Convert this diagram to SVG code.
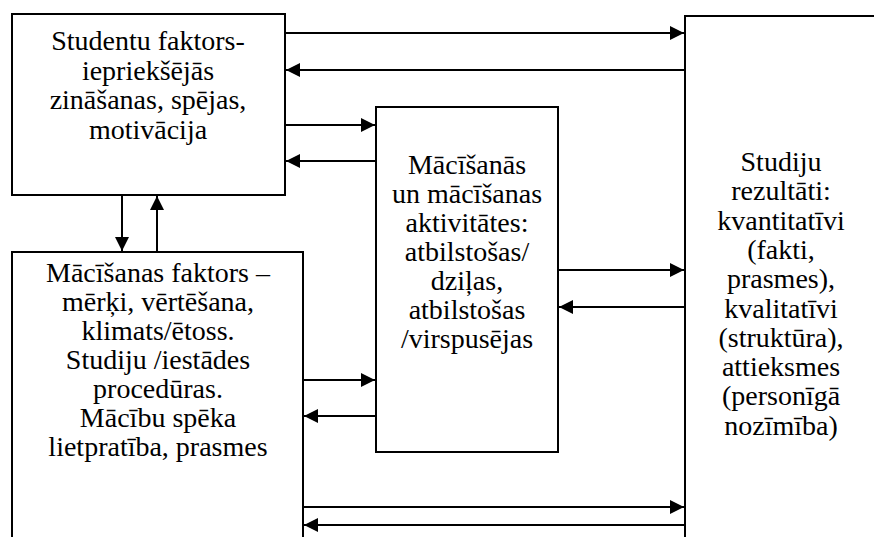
<svg xmlns="http://www.w3.org/2000/svg" width="874" height="537" viewBox="0 0 874 537">
<style>
.box{fill:#fff;stroke:#000;stroke-width:2}
.ln{stroke:#000;stroke-width:2;fill:none;marker-end:url(#ah)}
text{font-family:'Liberation Serif','Times New Roman',serif;font-size:28px;fill:#000;text-anchor:middle}
</style>
<defs>
<marker id="ah" markerUnits="userSpaceOnUse" viewBox="0 0 14 14" markerWidth="14" markerHeight="14" refX="14" refY="7" orient="auto">
<path d="M0,0 L14,7 L0,14 z" fill="#000"/>
</marker>
</defs>
<g id="studentu">
<rect class="box" x="12" y="14" width="273" height="181"/>
<text x="148" y="50">Studentu faktors-</text>
<text x="148" y="79.5">iepriekšējās</text>
<text x="148" y="109">zināšanas, spējas,</text>
<text x="148" y="138.5">motivācija</text>
</g>
<g id="macisanas-faktors">
<rect class="box" x="12" y="252" width="291" height="320"/>
<text x="158" y="282">Mācīšanas faktors –</text>
<text x="158" y="311">mērķi, vērtēšana,</text>
<text x="158" y="340">klimats/ētoss.</text>
<text x="158" y="369">Studiju /iestādes</text>
<text x="158" y="398">procedūras.</text>
<text x="158" y="427">Mācību spēka</text>
<text x="158" y="456">lietpratība, prasmes</text>
</g>
<g id="aktivitates">
<rect class="box" x="376" y="107" width="182" height="345"/>
<text x="467" y="174">Mācīšanās</text>
<text x="467" y="203">un mācīšanas</text>
<text x="467" y="232">aktivitātes:</text>
<text x="467" y="261">atbilstošas/</text>
<text x="467" y="290">dziļas,</text>
<text x="467" y="319">atbilstošas</text>
<text x="467" y="348">/virspusējas</text>
</g>
<g id="rezultati">
<rect class="box" x="685" y="16" width="220" height="560"/>
<text x="781" y="171">Studiju</text>
<text x="781" y="200.3">rezultāti:</text>
<text x="781" y="229.6">kvantitatīvi</text>
<text x="781" y="258.9">(fakti,</text>
<text x="781" y="288.2">prasmes),</text>
<text x="781" y="317.5">kvalitatīvi</text>
<text x="781" y="346.8">(struktūra),</text>
<text x="781" y="376.1">attieksmes</text>
<text x="781" y="405.4">(personīgā</text>
<text x="781" y="434.7">nozīmība)</text>
</g>
<g id="connectors">
<line class="ln" x1="286" y1="33" x2="684" y2="33"/>
<line class="ln" x1="684" y1="70" x2="286" y2="70"/>
<line class="ln" x1="286" y1="125" x2="375" y2="125"/>
<line class="ln" x1="375" y1="161" x2="286" y2="161"/>
<line class="ln" x1="122" y1="196" x2="122" y2="251"/>
<line class="ln" x1="157" y1="251" x2="157" y2="196"/>
<line class="ln" x1="559" y1="270" x2="684" y2="270"/>
<line class="ln" x1="684" y1="307" x2="559" y2="307"/>
<line class="ln" x1="304" y1="380" x2="375" y2="380"/>
<line class="ln" x1="375" y1="416" x2="304" y2="416"/>
<line class="ln" x1="304" y1="507" x2="684" y2="507"/>
<line class="ln" x1="684" y1="525" x2="304" y2="525"/>
</g>
</svg>
